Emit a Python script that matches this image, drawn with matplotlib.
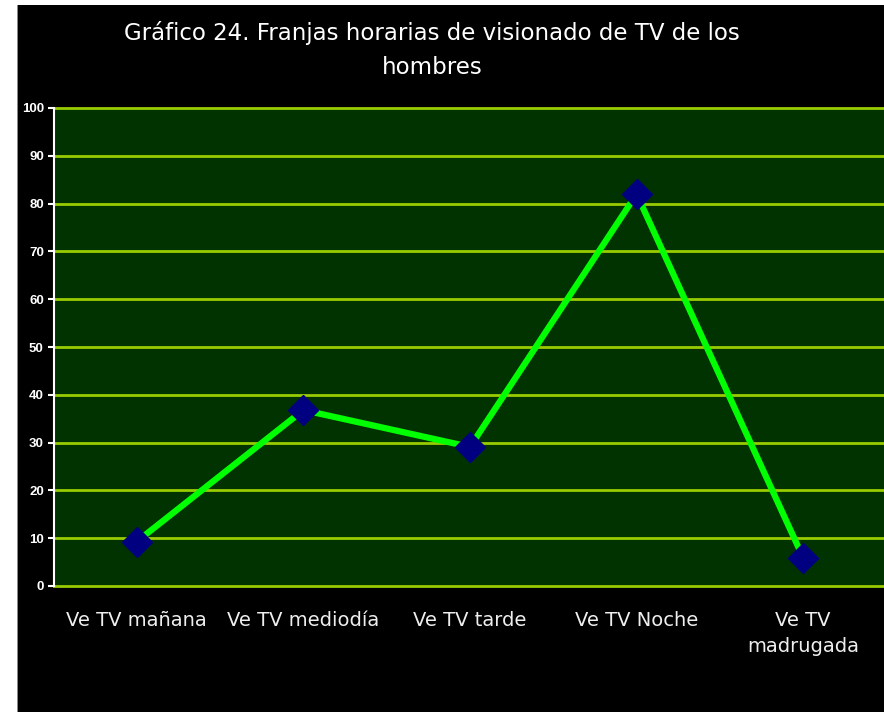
import matplotlib
matplotlib.use("Agg")
import matplotlib.pyplot as plt
from matplotlib.patches import Rectangle

categories = ["Ve TV mañana", "Ve TV mediodía", "Ve TV tarde", "Ve TV Noche", "Ve TV\nmadrugada"]
values = [9.3, 36.8, 29.1, 82.0, 5.9]
yticks = [0, 10, 20, 30, 40, 50, 60, 70, 80, 90, 100]
title = "Gráfico 24. Franjas horarias de visionado de TV de los\nhombres"

W, H = 884, 712
fig = plt.figure(figsize=(W/100, H/100), dpi=100, facecolor="black")
# white margins
fig.patches.append(Rectangle((0, 0), 17/W, 1, transform=fig.transFigure, facecolor="white", edgecolor="none", zorder=0))
fig.patches.append(Rectangle((0, 1-5/H), 1, 5/H, transform=fig.transFigure, facecolor="white", edgecolor="none", zorder=0))
fig.patches.append(Rectangle((17/W, 0), 1.2/W, 1-5/H, transform=fig.transFigure, facecolor="#888888", edgecolor="none", zorder=0))

left, right, top, bottom = 53.5, 886.5, 108, 586
ax = fig.add_axes([left/W, (H-bottom)/H, (right-left)/W, (bottom-top)/H])
ax.set_facecolor("#003300")
x = list(range(len(categories)))
ax.set_xlim(-0.5, len(categories)-0.5)
ax.set_ylim(0, 100)
ax.set_yticks(yticks)
ax.set_yticklabels([str(t) for t in yticks], fontsize=9.5, fontweight="bold", color="white", family="Liberation Sans")
for t in yticks:
    ax.axhline(t, color="#99CC00", linewidth=2, zorder=1, clip_on=False)
for s in ["top", "right", "bottom"]:
    ax.spines[s].set_visible(False)
ax.spines["left"].set_color("white")
ax.spines["left"].set_linewidth(1.5)
ax.spines["left"].set_zorder(2)
ax.tick_params(axis="y", colors="white", length=4, width=1.5, pad=3)
ax.set_xticks(x)
ax.set_xticklabels(categories, fontsize=14, color="#EEEEEE", family="DejaVu Sans", linespacing=1.45)
ax.tick_params(axis="x", length=0, pad=18)
ax.plot(x, values, color="#00FF00", linewidth=4.5, marker="D", markersize=15,
        markerfacecolor="#000080", markeredgecolor="#000080", zorder=3, clip_on=False)
fig.text(432/W, 1-50/H, title, ha="center", va="center", fontsize=16.5, color="white",
         family="DejaVu Sans", linespacing=1.6)
fig.savefig("out.png", dpi=100, facecolor="black")
